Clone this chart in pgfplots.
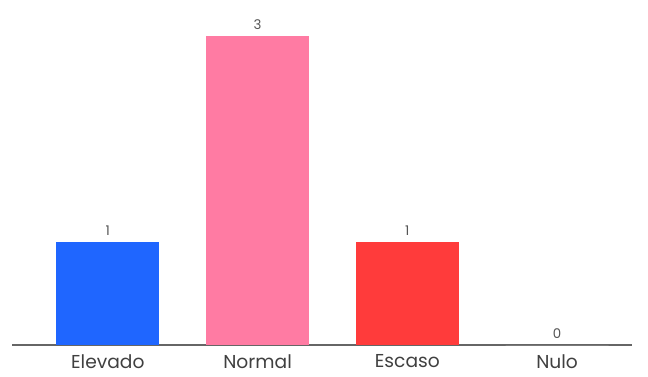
\documentclass[border=0pt]{standalone}
\usepackage{pgfplots}
\pgfplotsset{compat=1.18}
\usepackage{fontspec}
\setmainfont{Poppins}
\definecolor{cBlue}{HTML}{1F66FF}
\definecolor{cPink}{HTML}{FF7BA3}
\definecolor{cRed}{HTML}{FF3B3B}
\definecolor{cText}{HTML}{404040}
\definecolor{cValue}{HTML}{555555}
\definecolor{cAxis}{HTML}{666666}
\begin{document}
\begin{tikzpicture}
\useasboundingbox (0,0) rectangle (486pt,282pt);
\begin{axis}[
  at={(9pt,23.25pt)}, anchor=south west,
  scale only axis, width=465pt, height=258.75pt,
  xmin=-0.64, xmax=3.5, ymin=0, ymax=3.35,
  axis x line=bottom, axis y line=none,
  x axis line style={-, cAxis, line width=1.1pt},
  xtick={0,1,2,3},
  xticklabels={Elevado,Normal,Escaso,Nulo},
  major tick length=0pt,
  xticklabel style={font=\fontsize{14}{16}\selectfont, text=cText, yshift=-3.5pt},
  ybar, bar width=77.25pt, bar shift=0pt,
  nodes near coords,
  every node near coord/.append style={font=\fontsize{10}{12}\selectfont, text=cValue, yshift=1.5pt},
  /pgf/number format/assume math mode=true,
  clip=false,
]
\addplot[fill=cBlue, draw=none] coordinates {(0,1)};
\addplot[fill=cPink, draw=none] coordinates {(1,3)};
\addplot[fill=cRed, draw=none] coordinates {(2,1)};
\addplot[fill=white, draw=none] coordinates {(3,0)};
\end{axis}
\end{tikzpicture}
\end{document}
